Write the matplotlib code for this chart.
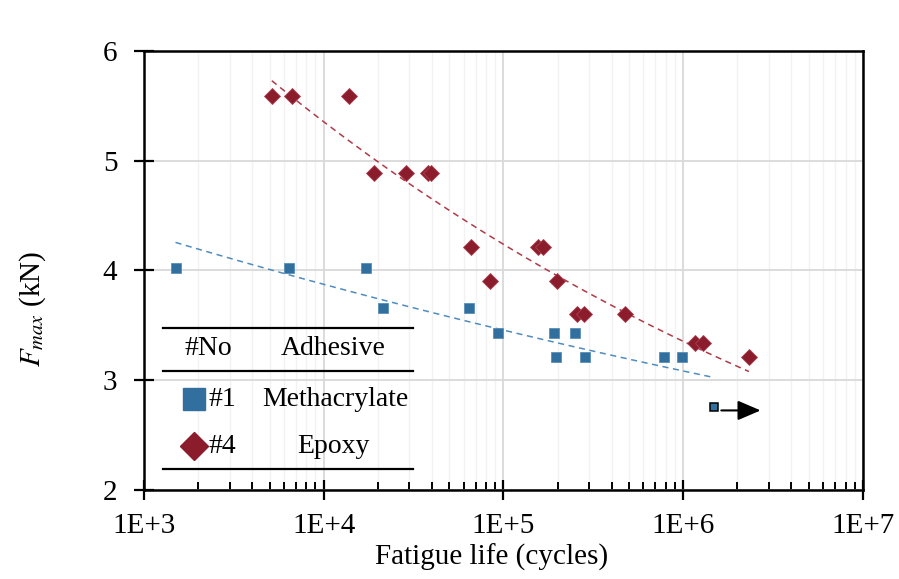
import numpy as np
import matplotlib
matplotlib.use("Agg")
import matplotlib.pyplot as plt
from matplotlib.ticker import LogLocator, FuncFormatter, FixedLocator

plt.rcParams['font.family'] = ['Liberation Serif', 'DejaVu Serif']
plt.rcParams['mathtext.fontset'] = 'stix'

# --- datos ---
# Metacrilato (#1)
meth_N = [1.5e3, 6.4e3, 1.72e4, 2.15e4, 6.4e4, 9.3e4, 1.9e5, 1.95e5, 2.5e5, 2.85e5, 7.8e5, 9.9e5]
meth_F = [4.02, 4.02, 4.02, 3.66, 3.66, 3.43, 3.43, 3.21, 3.43, 3.21, 3.21, 3.21]
# ensayo sin rotura (runout)
runout_N = [1.48e6]
runout_F = [2.76]

# Epoxi (#4)
epoxy_N = [5.15e3, 6.7e3, 1.38e4, 1.9e4, 2.87e4, 3.8e4, 3.95e4, 6.6e4, 8.4e4, 1.56e5, 1.66e5,
           1.99e5, 2.57e5, 2.8e5, 4.75e5, 1.16e6, 1.29e6, 2.32e6]
epoxy_F = [5.59, 5.59, 5.59, 4.89, 4.89, 4.89, 4.89, 4.21, 3.90, 4.21, 4.21,
           3.90, 3.60, 3.60, 3.60, 3.34, 3.34, 3.21]

c_meth = '#31709e'
c_meth_trend = '#4f8cc0'
c_epoxy = '#8b1c2c'
c_epoxy_trend = '#b03a48'


def power_trend(N, F):
    # ajuste potencial (como la linea de tendencia de Excel)
    b, a = np.polyfit(np.log10(N), np.log10(F), 1)
    xs = np.logspace(np.log10(min(N)), np.log10(max(N)), 100)
    return xs, 10 ** (a + b * np.log10(xs))


fig = plt.figure(figsize=(8.99, 5.79), dpi=100)
ax = fig.add_axes([0.160, 0.1537, 0.800, 0.7583])

ax.set_xscale('log')
ax.set_xlim(1e3, 1e7)
ax.set_ylim(2, 6)

# rejilla
ax.grid(which='major', color='#d9d9d9', linewidth=1.3, zorder=0)
ax.grid(which='minor', axis='x', color='#f2f2f2', linewidth=1.0, zorder=0)
ax.set_axisbelow(True)

# lineas de tendencia
xs, ys = power_trend(meth_N + runout_N, meth_F + runout_F)
ax.plot(xs, ys, linestyle=(0, (4, 3)), color=c_meth_trend, linewidth=1.1, zorder=2)
xs, ys = power_trend(epoxy_N, epoxy_F)
ax.plot(xs, ys, linestyle=(0, (4, 3)), color=c_epoxy_trend, linewidth=1.1, zorder=2)

# puntos
ax.plot(meth_N, meth_F, 's', color=c_meth, markersize=7.4, markeredgecolor='#5a8fb8',
        markeredgewidth=0.6, zorder=3)
ax.plot(epoxy_N, epoxy_F, 'D', color=c_epoxy, markersize=8.2, markeredgecolor='#a84050',
        markeredgewidth=0.6, zorder=3)
ax.plot(runout_N, runout_F, 's', color=c_meth, markersize=6.2, markeredgecolor='black',
        markeredgewidth=1.1, zorder=3)
ax.annotate('', xy=(runout_N[0] * 1.82, runout_F[0] - 0.035),
            xytext=(runout_N[0] * 1.1, runout_F[0] - 0.035),
            arrowprops=dict(arrowstyle='-|>,head_length=0.7,head_width=0.3',
                            color='black', lw=1.5, mutation_scale=20,
                            shrinkA=0, shrinkB=0))

# ejes
for s in ax.spines.values():
    s.set_linewidth(1.8)
    s.set_color('black')

ax.xaxis.set_major_locator(LogLocator(base=10, numticks=10))
ax.xaxis.set_minor_locator(LogLocator(base=10, subs=np.arange(2, 10), numticks=20))
ax.xaxis.set_major_formatter(FuncFormatter(lambda v, p: '1E+%d' % round(np.log10(v))))
ax.xaxis.set_minor_formatter(FuncFormatter(lambda v, p: ''))
ax.yaxis.set_major_locator(FixedLocator([2, 3, 4, 5, 6]))

ax.tick_params(axis='x', which='major', direction='inout', length=15, width=1.6,
               labelsize=21, pad=9)
ax.tick_params(axis='x', which='minor', direction='in', length=6, width=1.4)
ax.tick_params(axis='y', which='major', direction='inout', length=14, width=1.6,
               labelsize=21, pad=12)

ax.set_xlabel('Fatigue life (cycles)', fontsize=21)
ax.xaxis.set_label_coords(0.484, -0.122)
ax.set_ylabel(r'$F_{max}$' + ' (kN)', fontsize=21)
ax.yaxis.set_label_coords(-0.133, 0.412)

# --- leyenda tipo tabla ---
tr = ax.transAxes
x0, x1 = 0.026, 0.374
for yy in [0.369, 0.271, 0.048]:
    ax.plot([x0, x1], [yy, yy], color='black', linewidth=1.6, transform=tr,
            clip_on=False, zorder=5)
ax.text(0.090, 0.323, '#No', transform=tr, fontsize=20, ha='center', va='center')
ax.text(0.263, 0.323, 'Adhesive', transform=tr, fontsize=20, ha='center', va='center')
ax.plot([0.070], [0.207], 's', color=c_meth, markersize=15.5, transform=tr, zorder=5)
ax.text(0.090, 0.207, '#1', transform=tr, fontsize=20, ha='left', va='center')
ax.text(0.266, 0.207, 'Methacrylate', transform=tr, fontsize=20, ha='center', va='center')
ax.plot([0.070], [0.100], 'D', color=c_epoxy, markersize=14, transform=tr, zorder=5)
ax.text(0.090, 0.100, '#4', transform=tr, fontsize=20, ha='left', va='center')
ax.text(0.264, 0.100, 'Epoxy', transform=tr, fontsize=20, ha='center', va='center')

fig.savefig('out.png', dpi=100)
